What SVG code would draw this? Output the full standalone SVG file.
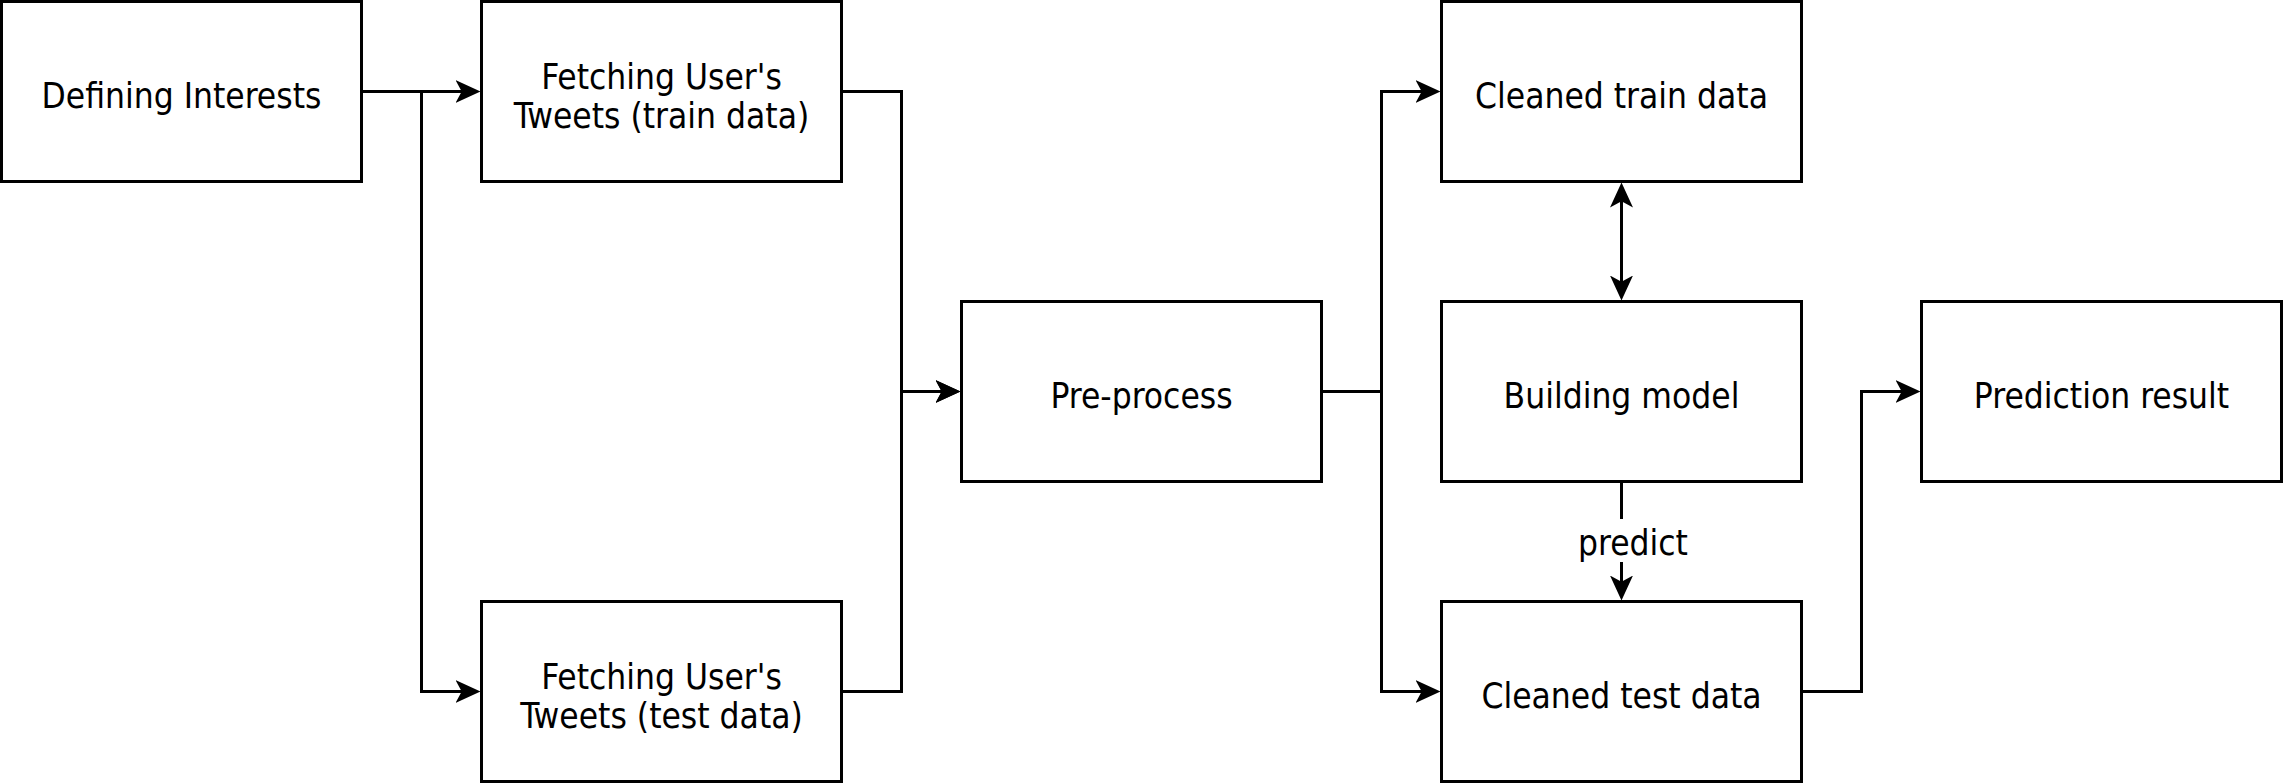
<svg xmlns="http://www.w3.org/2000/svg" width="2283" height="783" viewBox="0 0 2283 783">
<style>
.box{fill:#fff;stroke:#000;stroke-width:3}
.lbl{font-family:"DejaVu Sans Condensed","DejaVu Sans",sans-serif;font-stretch:condensed;font-size:35px;fill:#000;text-anchor:middle}
.edge{fill:none;stroke:#000;stroke-width:3}
.arr{marker-end:url(#ah)}
</style>
<defs>
<marker id="ah" viewBox="0 0 25 23" refX="15" refY="11.5" markerWidth="25" markerHeight="23" markerUnits="userSpaceOnUse" orient="auto-start-reverse">
<path d="M0,0 L25,11.5 L0,23 L6.2,11.5 Z" fill="#000"/>
</marker>
</defs>
<rect width="2283" height="783" fill="#fff"/>
<g id="connectors">
<path class="edge arr" d="M361.5,91.5 H470.5"/>
<path class="edge arr" d="M361.5,91.5 H421.5 V691.5 H470.5"/>
<path class="edge arr" d="M841.5,91.5 H901.5 V391.5 H950.5"/>
<path class="edge arr" d="M841.5,691.5 H901.5 V391.5 H950.5"/>
<path class="edge arr" d="M1321.5,391.5 H1381.5 V91.5 H1430.5"/>
<path class="edge arr" d="M1321.5,391.5 H1381.5 V691.5 H1430.5"/>
<path class="edge arr" d="M1621.5,192.5 V290.5" marker-start="url(#ah)"/>
<path class="edge arr" d="M1621.5,481.5 V590.5"/>
<path class="edge arr" d="M1801.5,691.5 H1861.5 V391.5 H1910.5"/>
<rect x="1582" y="519" width="102" height="43" fill="#fff"/>
<text class="lbl" x="1633" y="555">predict</text>
</g>
<g id="n-defining"><rect class="box" x="1.5" y="1.5" width="360" height="180"/><text class="lbl" x="181.5" y="107.5">Defining Interests</text></g>
<g id="n-fetch-train"><rect class="box" x="481.5" y="1.5" width="360" height="180"/><text class="lbl" x="661.5" y="88.5">Fetching User's</text><text class="lbl" x="661.5" y="127.5">Tweets (train data)</text></g>
<g id="n-fetch-test"><rect class="box" x="481.5" y="601.5" width="360" height="180"/><text class="lbl" x="661.5" y="688.5">Fetching User's</text><text class="lbl" x="661.5" y="727.5">Tweets (test data)</text></g>
<g id="n-preprocess"><rect class="box" x="961.5" y="301.5" width="360" height="180"/><text class="lbl" x="1141.5" y="407.5">Pre-process</text></g>
<g id="n-clean-train"><rect class="box" x="1441.5" y="1.5" width="360" height="180"/><text class="lbl" x="1621.5" y="107.5">Cleaned train data</text></g>
<g id="n-model"><rect class="box" x="1441.5" y="301.5" width="360" height="180"/><text class="lbl" x="1621.5" y="407.5">Building model</text></g>
<g id="n-clean-test"><rect class="box" x="1441.5" y="601.5" width="360" height="180"/><text class="lbl" x="1621.5" y="707.5">Cleaned test data</text></g>
<g id="n-result"><rect class="box" x="1921.5" y="301.5" width="360" height="180"/><text class="lbl" x="2101.5" y="407.5">Prediction result</text></g>
</svg>
